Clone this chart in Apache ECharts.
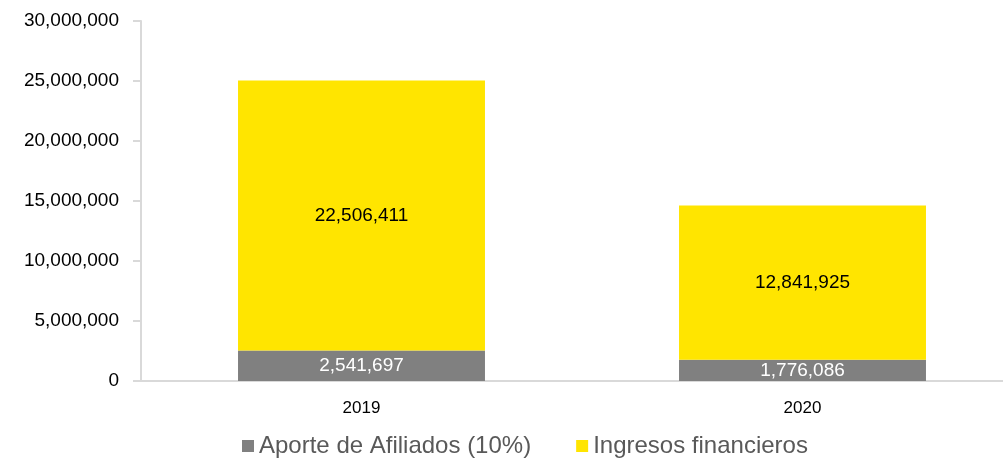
<!DOCTYPE html>
<html>
<head>
<meta charset="utf-8">
<script src="https://cdn.jsdelivr.net/npm/echarts@6/dist/echarts.min.js"></script>
<style>
  html, body { margin: 0; padding: 0; background: #fff; overflow: hidden; }
  #chart { width: 1023px; height: 461px; }
</style>
</head>
<body>
<div id="chart"></div>
<script>
// datos
const years = ["2019", "2020"];
const aporteAfiliados = [2541697, 1776086];
const ingresosFinancieros = [22506411, 12841925];
const yTicks = [0, 5000000, 10000000, 15000000, 20000000, 25000000, 30000000];

const fmt = v => Number(v).toLocaleString("en-US");
const FONT = "Liberation Sans, Arial, sans-serif";

const myChart = echarts.init(document.getElementById("chart"));
myChart.setOption({
  animation: false,
  textStyle: { fontFamily: FONT },
  grid: { left: 141, right: 0, top: 21, bottom: 80 },
  legend: {
    left: 237,
    top: 429,
    itemWidth: 12,
    itemHeight: 12,
    itemGap: 45,
    icon: "rect",
    textStyle: { fontSize: 24, color: "#595959", fontFamily: FONT },
    data: ["Aporte de Afiliados (10%)", "Ingresos financieros"]
  },
  xAxis: {
    type: "category",
    data: years,
    axisLine: { lineStyle: { color: "#d9d9d9", width: 2 } },
    axisTick: { show: false },
    axisLabel: { fontSize: 17, color: "#000", margin: 19 }
  },
  yAxis: {
    type: "value",
    min: yTicks[0],
    max: yTicks[yTicks.length - 1],
    interval: 5000000,
    axisLine: { show: true, lineStyle: { color: "#d9d9d9", width: 2 } },
    axisTick: { show: true, length: 8, lineStyle: { color: "#d9d9d9", width: 2 } },
    splitLine: { show: false },
    axisLabel: { fontSize: 19, color: "#000", margin: 22, formatter: fmt }
  },
  series: [
    {
      name: "Aporte de Afiliados (10%)",
      type: "bar",
      stack: "total",
      barWidth: "56%",
      itemStyle: { color: "#808080" },
      label: { show: true, position: "inside", color: "#fff", fontSize: 19, formatter: p => fmt(p.value) },
      data: aporteAfiliados
    },
    {
      name: "Ingresos financieros",
      type: "bar",
      stack: "total",
      barWidth: "56%",
      itemStyle: { color: "#ffe500" },
      label: { show: true, position: "inside", color: "#000", fontSize: 19, formatter: p => fmt(p.value) },
      data: ingresosFinancieros
    }
  ]
});

window.addEventListener("resize", () => {
  myChart.resize();
});
</script>
</body>
</html>
